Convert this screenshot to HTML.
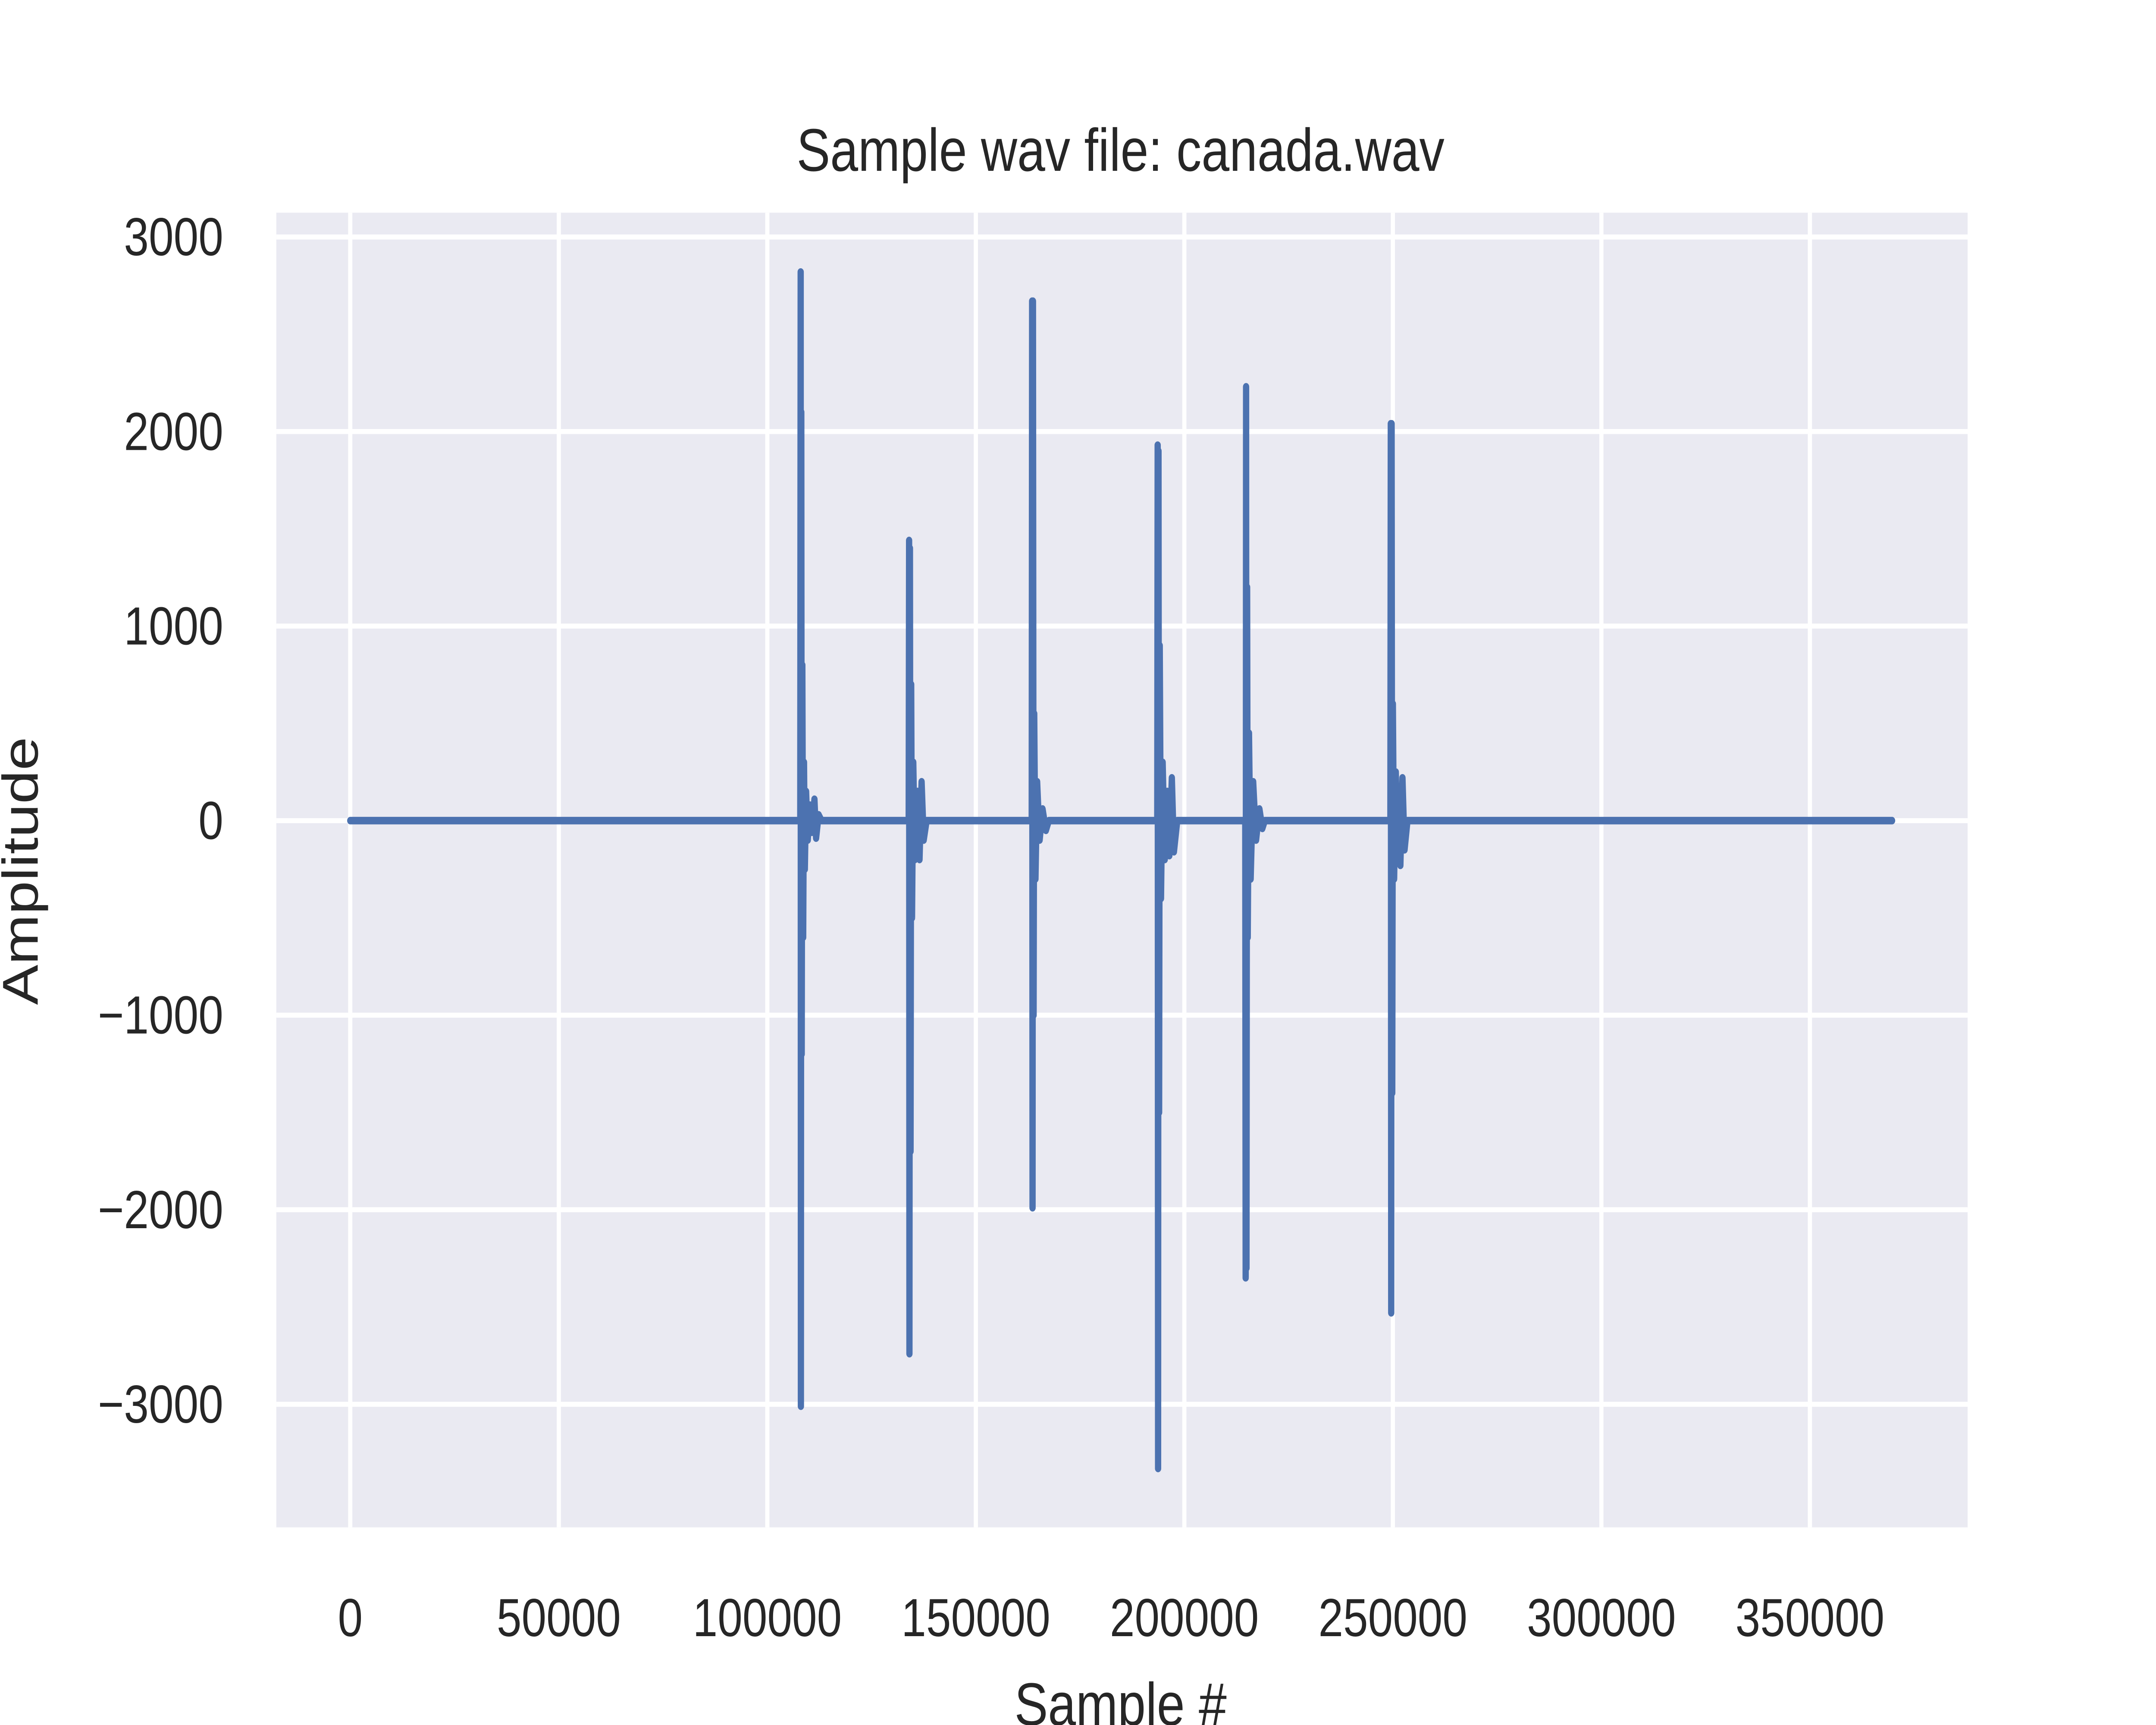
<!DOCTYPE html>
<html><head><meta charset="utf-8"><style>
html,body{margin:0;padding:0;background:#fff;overflow:hidden;width:100%;height:100%}
svg{display:block;width:100vw;height:100vh}
text{font-family:"Liberation Sans",sans-serif;fill:#262626}
</style></head><body>
<svg id="chart" viewBox="0 0 1545 1030" preserveAspectRatio="none" xmlns="http://www.w3.org/2000/svg">
<rect x="198" y="127" width="1212" height="785" fill="#eaeaf2"/>
<g id="grid"></g>
<g id="ticks"></g>
<g id="series"></g>
<text x="803" y="102" font-size="36" text-anchor="middle">Sample wav file: canada.wav</text>
<text x="803" y="1030" font-size="36" text-anchor="middle">Sample #</text>
<text x="0" y="0" font-size="36" text-anchor="middle" transform="translate(27,520) rotate(-90)">Amplitude</text>
</svg>
<script>
const xTicks=[0,50000,100000,150000,200000,250000,300000,350000];
const yTicks=[3000,2000,1000,0,-1000,-2000,-3000];
const samples=[0,20000,60000,107900,108000,108050,108150,108250,108400,108600,108800,109000,109300,109700,110200,110700,111300,111700,112300,113000,
133900,134000,134080,134200,134350,134500,134700,135000,135400,136000,136500,137000,137500,138200,
163400,163500,163600,163700,163850,164000,164300,164700,165300,166000,166800,167500,
193500,193600,193700,193800,193950,194100,194400,194800,195300,195900,196400,197000,197500,198300,
214600,214700,214800,214900,215050,215200,215500,215900,216500,217200,218000,218700,219300,
249400,249500,249600,249700,249850,250000,250300,250700,251200,251800,252300,252800,253500,
300000,369700];
const amplitudes=[0,0,0,0,2820,-3010,2100,-1200,800,-600,300,-250,150,-100,80,-60,110,-90,30,0,
0,1440,-2740,1400,-1700,700,-500,300,-200,150,-200,200,-100,0,
0,2670,-1990,2670,-1000,550,-300,200,-100,60,-50,0,
0,1930,-3330,1900,-1500,900,-400,300,-200,150,-180,220,-160,0,
0,-2350,2230,-2300,1200,-600,450,-300,200,-100,60,-40,0,
0,2040,-2530,2040,-1400,600,-300,250,-200,-230,220,-150,0,
0,0];
const X=v=>251+v*(1297-251)/350000;
const Y=v=>490-v*(838-141)/6000;
const ns="http://www.w3.org/2000/svg";
const grid=document.getElementById('grid'),ticks=document.getElementById('ticks'),series=document.getElementById('series');
xTicks.forEach(t=>{
 const l=document.createElementNS(ns,'line');
 l.setAttribute('x1',X(t));l.setAttribute('x2',X(t));l.setAttribute('y1',127);l.setAttribute('y2',912);
 l.setAttribute('stroke','#fff');l.setAttribute('stroke-width',3);
 
 
 grid.appendChild(l);
 const tx=document.createElementNS(ns,'text');
 tx.setAttribute('x',X(t));tx.setAttribute('y',977);tx.setAttribute('font-size',32);tx.setAttribute('text-anchor','middle');
 tx.textContent=String(t);
 
 
 ticks.appendChild(tx);
});
yTicks.forEach(t=>{
 const l=document.createElementNS(ns,'line');
 l.setAttribute('x1',198);l.setAttribute('x2',1410);l.setAttribute('y1',Y(t));l.setAttribute('y2',Y(t));
 l.setAttribute('stroke','#fff');l.setAttribute('stroke-width',3);
 
 
 grid.appendChild(l);
 const tx=document.createElementNS(ns,'text');
 tx.setAttribute('x',160);tx.setAttribute('y',Y(t)+11);tx.setAttribute('font-size',32);tx.setAttribute('text-anchor','end');
 tx.textContent=t<0?'\u2212'+Math.abs(t):String(t);
 
 
 ticks.appendChild(tx);
});
const p=document.createElementNS(ns,'polyline');
p.setAttribute('points',samples.map((s,i)=>X(s).toFixed(2)+','+Y(amplitudes[i]).toFixed(2)).join(' '));
p.setAttribute('fill','none');p.setAttribute('stroke','#4c72b0');p.setAttribute('stroke-width',4.5);
p.setAttribute('stroke-linecap','round');p.setAttribute('stroke-linejoin','round');


series.appendChild(p);
</script>
</body></html>
